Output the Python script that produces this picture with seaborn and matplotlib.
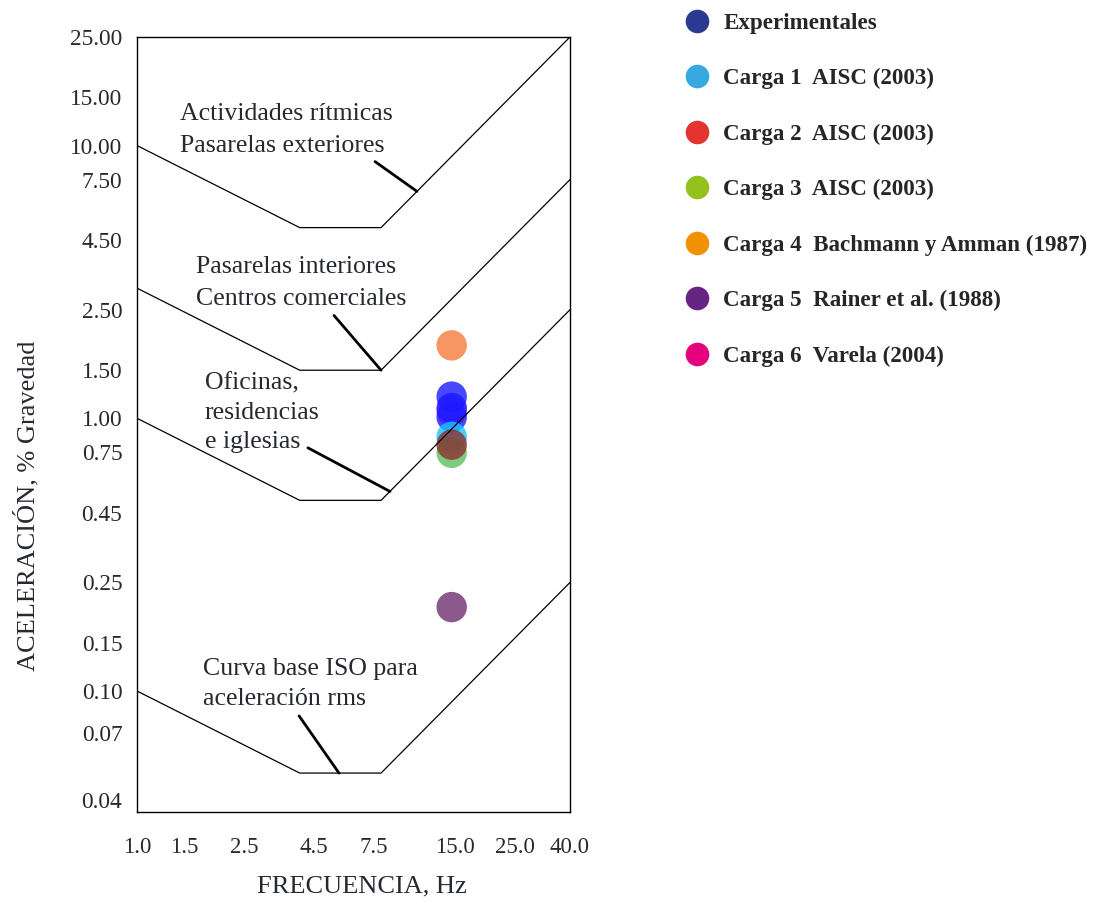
import matplotlib.pyplot as plt
import numpy as np
import pandas as pd
import seaborn as sns
from matplotlib.lines import Line2D

# curvas limite (% gravedad) vs frecuencia
curve_freq = [1.0, 4.0, 8.0, 40.0]
iso_base = [0.10, 0.05, 0.05, 0.25]
oficinas = [1.0, 0.5, 0.5, 2.5]
pasarelas_int = [3.0, 1.5, 1.5, 7.5]
ritmicas = [10.0, 5.0, 5.0, 25.0]

# puntos a la frecuencia de la pasarela
point_freq = 14.6
carga6 = [1.06]
experimentales = [1.20, 1.09, 1.01]
carga1 = [0.855]
carga3 = [0.747]
carga2 = [0.80]
carga4 = [1.85]
carga5 = [0.203]

x_ticks = [1.0, 1.5, 2.5, 4.5, 7.5, 15.0, 25.0, 40.0]
y_ticks = [0.04, 0.07, 0.10, 0.15, 0.25, 0.45, 0.75, 1.00, 1.50, 2.50, 4.50, 7.50, 10.00, 15.00, 25.00]

legend_labels = ["Experimentales", "Carga 1  AISC (2003)", "Carga 2  AISC (2003)",
                 "Carga 3  AISC (2003)", "Carga 4  Bachmann y Amman (1987)",
                 "Carga 5  Rainer et al. (1988)", "Carga 6  Varela (2004)"]
legend_colors = ["#2b3990", "#36a9e1", "#e3342f", "#95c11f", "#f39200", "#662483", "#e6007e"]

zone_texts = ["Actividades rítmicas\nPasarelas exteriores",
              "Pasarelas interiores\nCentros comerciales",
              "Oficinas,\nresidencias\ne iglesias",
              "Curva base ISO para\naceleración rms"]
zone_text_pos = [(1.443, 11.36), (1.653, 3.13), (1.785, 1.047), (1.754, 0.106)]
zone_spacing = [1.58, 1.62, 1.44, 1.44]
leaders = [((7.60, 8.73), (10.86, 6.79)),
           ((5.36, 2.38), (8.0, 1.5)),
           ((4.29, 0.779), (8.63, 0.539)),
           ((3.98, 0.081), (5.59, 0.05))]

sns.set_style("white")
plt.rcParams['font.family'] = ['Liberation Serif', 'DejaVu Serif']
txt_color = '#262a30'

fig = plt.figure(figsize=(10.93, 9.02), dpi=100)
ax = fig.add_axes([0.1253, 0.0998, 0.3962, 0.8592])

curves = pd.DataFrame({
    'f': curve_freq * 4,
    'a': iso_base + oficinas + pasarelas_int + ritmicas,
    'curva': ['iso'] * 4 + ['ofi'] * 4 + ['pint'] * 4 + ['rit'] * 4,
})
sns.lineplot(data=curves, x='f', y='a', units='curva', estimator=None, sort=False,
             color='black', lw=0.9, ax=ax)

for (x0, y0), (x1, y1) in leaders:
    ax.plot([x0, x1], [y0, y1], color='black', lw=2)

series = [("c6", carga6, "#ff20ff"), ("exp", experimentales, "#1a1aff"),
          ("c1", carga1, "#19c3ff"), ("c3", carga3, "#5cbf5c"),
          ("c2", carga2, "#8e3030"), ("c4", carga4, "#f47c3c"),
          ("c5", carga5, "#6e306e")]
rows = []
for name, vals, col in series:
    for v in vals:
        rows.append({'f': point_freq, 'a': v, 'serie': name})
pts = pd.DataFrame(rows)
sns.scatterplot(data=pts, x='f', y='a', hue='serie',
                palette={n: c for n, _, c in series}, s=480, alpha=0.8,
                edgecolor='none', legend=False, ax=ax)

for t, (x, y), ls in zip(zone_texts, zone_text_pos, zone_spacing):
    ax.text(x, y, t, ha='left', va='center', fontsize=18.6, color=txt_color, linespacing=ls)

ax.set_xscale('log')
ax.set_yscale('log')
ax.set_xlim(1, 40)
ax.set_ylim(0.036, 25)
ax.minorticks_off()
ax.set_xticks(x_ticks)
ax.set_xticklabels([f"{v:.1f}" for v in x_ticks])
ax.set_yticks(y_ticks)
ax.set_yticklabels([f"{v:.2f}" for v in y_ticks])
ax.tick_params(axis='x', direction='in', length=8, width=1.2, pad=18, labelsize=16.5,
               labelcolor=txt_color, color='black')
ax.tick_params(axis='y', direction='out', length=8, width=1.2, pad=2.5, labelsize=16.8,
               labelcolor=txt_color, color='black')
for v, tk in zip(y_ticks, ax.yaxis.get_major_ticks()):
    if v in (25.0, 10.0, 1.0, 0.1):
        tk.tick1line.set_visible(False)
for v, tk in zip(x_ticks, ax.xaxis.get_major_ticks()):
    if v in (1.0, 40.0):
        tk.tick1line.set_visible(False)

for sp in ax.spines.values():
    sp.set_color('black')
    sp.set_linewidth(1.0)

ax.set_xlabel("FRECUENCIA, Hz", fontsize=19, color=txt_color)
ax.set_ylabel("ACELERACIÓN, % Gravedad", fontsize=19, color=txt_color)
ax.xaxis.set_label_coords(0.52, -0.082)
ax.yaxis.set_label_coords(-0.224, 0.395)

handles = [Line2D([0], [0], marker='o', linestyle='', markersize=17,
                  markerfacecolor=c, markeredgecolor='none') for c in legend_colors]
fig.legend(handles, legend_labels, loc='upper left', bbox_to_anchor=(0.6272, 0.986),
           frameon=False, handlelength=1.0, handletextpad=0.63, labelspacing=1.49,
           borderpad=0, borderaxespad=0,
           prop={'weight': 'bold', 'size': 16.6, 'family': ['Liberation Serif', 'DejaVu Serif']})

fig.savefig('out.png', dpi=100)
